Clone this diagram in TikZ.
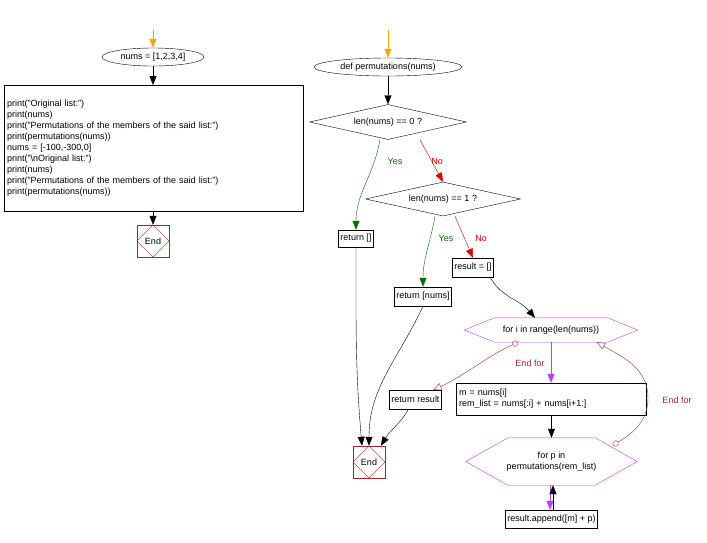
\documentclass[tikz,border=0pt]{standalone}
\usepackage{fontspec}
\setmainfont{Liberation Sans}
\usetikzlibrary{arrows.meta,shapes.geometric}
\definecolor{org}{RGB}{255,165,0}
\definecolor{grn}{RGB}{0,110,0}
\definecolor{rd}{RGB}{220,0,0}
\definecolor{pur}{RGB}{190,60,255}
\definecolor{brn}{RGB}{160,40,40}
\tikzset{
 every node/.style={font=\fontsize{9}{11}\selectfont},
 box/.style={draw,inner sep=2pt,align=left},
 ell/.style={draw,ellipse,inner sep=0pt,minimum height=18pt},
 dia/.style={draw,diamond,inner sep=0pt,aspect=4.5},
 hexn/.style={inner sep=0pt,align=center},
 endn/.style={draw=brn,minimum size=32pt,inner sep=0pt},
 ar/.style={-{Triangle[length=9pt,width=7pt]}},
 oa/.style={ar,org,line width=1pt},
 yes/.style={ar,grn},
 no/.style={ar,rd},
 pa/.style={ar,pur},
 ef/.style={brn,{Circle[open,length=6pt]}-{Triangle[open,length=8pt,width=7pt]}},
 lab/.style={font=\fontsize{9}{11}\selectfont}
}
\newcommand{\myhexdraw}[2]{\draw[pur] (#1.west) -- ([xshift=#2]#1.north west) -- ([xshift=-#2]#1.north east) -- (#1.east) -- ([xshift=-#2]#1.south east) -- ([xshift=#2]#1.south west) -- cycle;}
\newcommand{\myenddia}[1]{\draw[brn] (#1.north) -- (#1.east) -- (#1.south) -- (#1.west) -- cycle;}
\begin{document}
\begin{tikzpicture}[x=1pt,y=-1pt]
\useasboundingbox (0,0) rectangle (707,542);
% left
\coordinate (s1) at (153,30);
\node[ell,minimum width=102pt] (n1) at (153,57) {nums = [1,2,3,4]};
\node[box,minimum width=299pt,minimum height=126pt,text width=293pt,anchor=north west] (pr) at (4,85) {print("Original list:")\\print(nums)\\print("Permutations of the members of the said list:")\\print(permutations(nums))\\nums = [-100,-300,0]\\print("\textbackslash nOriginal list:")\\print(nums)\\print("Permutations of the members of the said list:")\\print(permutations(nums))};
\node[endn] (e1) at (153,241) {End};
\myenddia{e1}
\draw[oa] (s1) -- (n1.north);
\draw[ar] (n1) -- (pr.north -| n1);
\draw[ar] (pr.south -| e1) -- (e1);
% right
\coordinate (s2) at (388,30);
\node[ell,minimum width=148pt] (df) at (388,67) {def permutations(nums)};
\node[dia,minimum width=157pt,minimum height=35pt] (d0) at (388,122) {len(nums) == 0 ?};
\node[dia,minimum width=155pt,minimum height=34pt] (d1) at (443,199) {len(nums) == 1 ?};
\node[box,minimum height=17pt] (r0) at (356,238.5) {return []};
\node[box,minimum height=19pt] (rn) at (423,296.5) {return [nums]};
\node[box,minimum height=19pt] (rs) at (473,267.5) {result = []};
\node[hexn,minimum width=173pt,minimum height=24pt] (fi) at (551,330) {for i in range(len(nums))};
\myhexdraw{fi}{30pt}
\node[box,minimum width=190pt,minimum height=32pt,text width=184pt] (mb) at (551,399) {m = nums[i]\\rem\_list = nums[:i] + nums[i+1:]};
\node[box,minimum height=19pt] (rr) at (415.5,399.5) {return result};
\node[hexn,minimum width=171pt,minimum height=47pt] (fp) at (551.5,461.5) {for p in\\permutations(rem\_list)};
\myhexdraw{fp}{42pt}
\node[box,minimum height=18pt] (ap) at (551.5,519) {result.append([m] + p)};
\node[endn] (e2) at (369,462) {End};
\myenddia{e2}
\draw[oa] (s2) -- (df.north);
\draw[ar] (df) -- (d0.north);
\draw[yes] ([xshift=-8pt]d0.south) to[out=-100,in=90] (r0.north);
\node[lab,text=grn] at (395,161) {Yes};
\draw[no] ([xshift=32pt]d0.south) -- (d1.north);
\node[lab,text=rd] at (437,161) {No};
\draw[yes] ([xshift=-8pt]d1.south) to[out=-100,in=90] (rn.north);
\node[lab,text=grn] at (446,238) {Yes};
\draw[no] ([xshift=12pt]d1.south) -- (rs.north);
\node[lab,text=rd] at (481,238) {No};
\draw[ar] ([xshift=17pt]rs.south) to[out=-60,in=130] ([xshift=-16pt]fi.north);
\draw[ar] (r0.south) to[out=-90,in=95] ([xshift=-7pt]e2.north);
\draw[ar] (rn.south) to[out=-115,in=90] (e2.north);
\draw[ar] ([xshift=-7pt]rr.south) to[out=-120,in=60] ([xshift=12pt]e2.north);
\draw[pa] (fi.south) -- (mb.north -| fi.south);
\node[lab,text=brn] at (530,363) {End for};
\draw[ef] ([xshift=-33pt]fi.south) to[out=-155,in=25] ([xshift=18pt]rr.north);
\draw[ar] (mb.south -| fp.north) -- (fp.north);
\draw[ef] (613,445) to[out=30,in=-90] (648,398) to[out=90,in=-30] ([xshift=46pt]fi.south);
\node[lab,text=brn] at (677,400) {End for};
\draw[pa] ([xshift=-1.5pt]fp.south) -- ([xshift=-1.5pt]ap.north);
\draw[ar] ([xshift=1.5pt]ap.north) -- ([xshift=1.5pt]fp.south);
\end{tikzpicture}
\end{document}
